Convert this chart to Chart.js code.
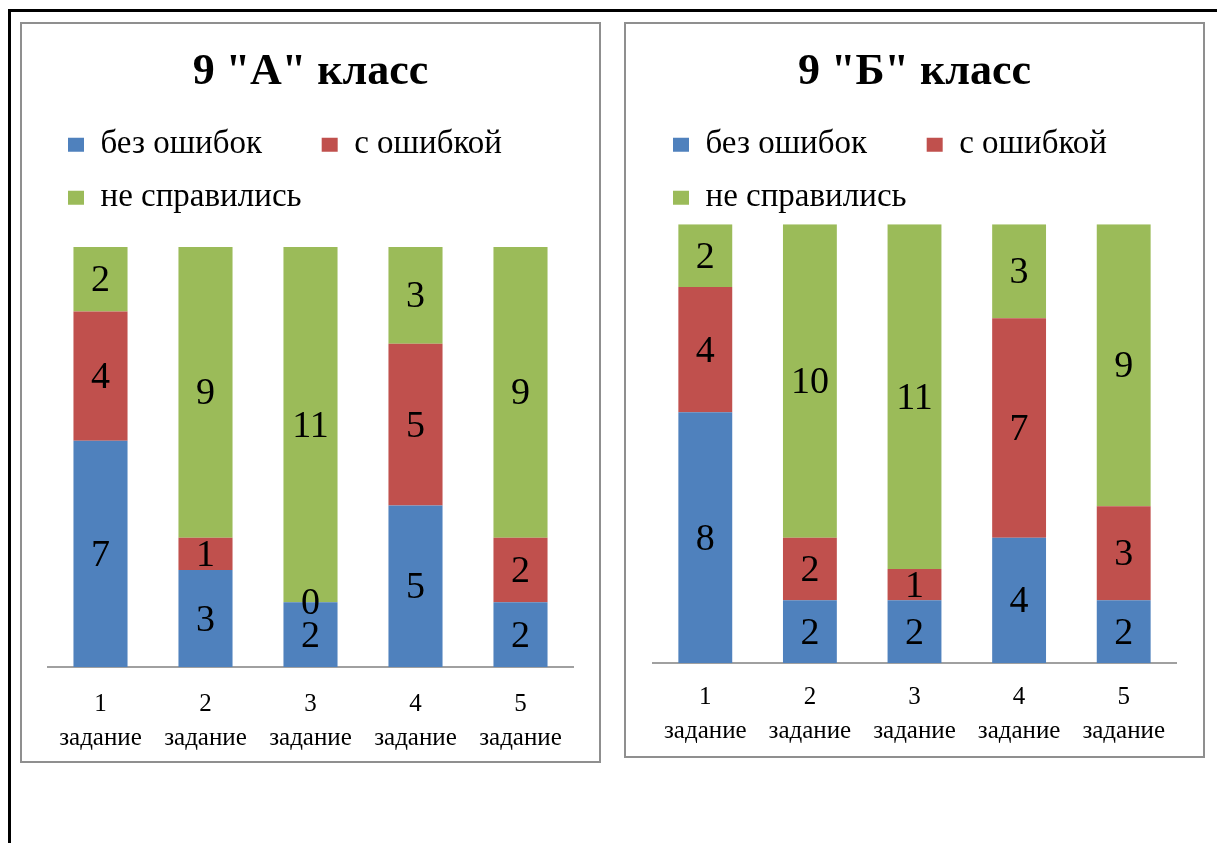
<!DOCTYPE html>
<html>
<head>
<meta charset="utf-8">
<script src="https://cdn.jsdelivr.net/npm/chart.js@4"></script>
<style>
  html, body { margin: 0; padding: 0; background: #fff; overflow: hidden; }
  body { width: 1217px; height: 843px; position: relative; }
  .frame { position: absolute; left: 8px; top: 9px; width: 1300px; height: 900px;
           border-top: 3px solid #000; border-left: 3px solid #000; }
  .panel { position: absolute; border: 2px solid #8f8f8f; background: #fff; }
  #panelA { left: 20px; top: 22px; width: 577px; height: 737px; }
  #panelB { left: 624px; top: 22px; width: 577px; height: 732px; }
  canvas { display: block; }
</style>
</head>
<body>
<div class="frame"></div>
<div class="panel" id="panelA"><canvas id="chartA" width="577" height="737"></canvas></div>
<div class="panel" id="panelB"><canvas id="chartB" width="577" height="732"></canvas></div>
<script>
const categories = [['1', 'задание'], ['2', 'задание'], ['3', 'задание'], ['4', 'задание'], ['5', 'задание']];
const seriesNames = ['без ошибок', 'с ошибкой', 'не справились'];
const seriesColors = ['#4F81BD', '#C0504D', '#9BBB59'];

// 9 "А"
const noErrorsA = [7, 3, 2, 5, 2];
const oneErrorA = [4, 1, 0, 5, 2];
const failedA = [2, 9, 11, 3, 9];

// 9 "Б"
const noErrorsB = [8, 2, 2, 4, 2];
const oneErrorB = [4, 2, 1, 7, 3];
const failedB = [2, 10, 11, 3, 9];

const serif = "'Liberation Serif', 'Times New Roman', serif";
Chart.defaults.font.family = serif;
Chart.defaults.color = '#000';

// подписи значений в центре каждого сегмента
const valueLabels = {
    id: 'valueLabels',
    afterDatasetsDraw(chart) {
        const ctx = chart.ctx;
        ctx.save();
        ctx.font = '38px ' + serif;
        ctx.fillStyle = '#000';
        ctx.textAlign = 'center';
        ctx.textBaseline = 'middle';
        chart.data.datasets.forEach((ds, i) => {
            const meta = chart.getDatasetMeta(i);
            meta.data.forEach((bar, j) => {
                const p = bar.getProps(['x', 'y', 'base'], true);
                ctx.fillText(String(ds.data[j]), p.x, (p.y + p.base) / 2 + 2);
            });
        });
        ctx.restore();
    }
};

// как в Excel: вторая колонка легенды стоит дальше
function legendLabels(chart) {
    const items = Chart.defaults.plugins.legend.labels.generateLabels(chart);
    items[0].text += '\u2003\u2009';
    return items;
}

function makeChart(id, title, values, opts) {
    new Chart(document.getElementById(id), {
        type: 'bar',
        data: {
            labels: categories,
            datasets: values.map((v, i) => ({
                label: seriesNames[i],
                data: v,
                backgroundColor: seriesColors[i],
                borderWidth: 0,
                categoryPercentage: 1,
                barPercentage: 0.515
            }))
        },
        options: {
            responsive: false,
            animation: false,
            layout: { padding: { left: opts.side, right: opts.side, top: 0, bottom: 0 } },
            plugins: {
                title: {
                    display: true,
                    text: title,
                    color: '#000',
                    font: { size: 44, weight: 'bold', family: serif },
                    padding: { top: 22, bottom: opts.titleGap }
                },
                legend: {
                    position: 'top',
                    align: 'start',
                    labels: {
                        color: '#000',
                        font: { size: 33, family: serif },
                        boxWidth: 16,
                        boxHeight: 14,
                        padding: 20,
                        generateLabels: legendLabels
                    }
                },
                tooltip: { enabled: false }
            },
            scales: {
                x: {
                    stacked: true,
                    grid: { display: false, drawTicks: false },
                    border: { display: true, color: '#a0a0a0', width: 2 },
                    ticks: {
                        color: '#000',
                        font: { size: 25, family: serif, lineHeight: 1.35 },
                        padding: opts.tickPad,
                        maxRotation: 0,
                        autoSkip: false
                    },
                    afterFit(scale) { scale.height = opts.axisHeight; }
                },
                y: {
                    stacked: true,
                    display: false,
                    min: 0,
                    max: opts.yMax
                }
            }
        },
        plugins: [valueLabels]
    });
}

makeChart('chartA', '9 "А" класс', [noErrorsA, oneErrorA, failedA],
    { side: 26, titleGap: 9.5, tickPad: 21, axisHeight: 94, yMax: 13.7 });
makeChart('chartB', '9 "Б" класс', [noErrorsB, oneErrorB, failedB],
    { side: 27, titleGap: 9.5, tickPad: 18, axisHeight: 93, yMax: 14 });
</script>
</body>
</html>
